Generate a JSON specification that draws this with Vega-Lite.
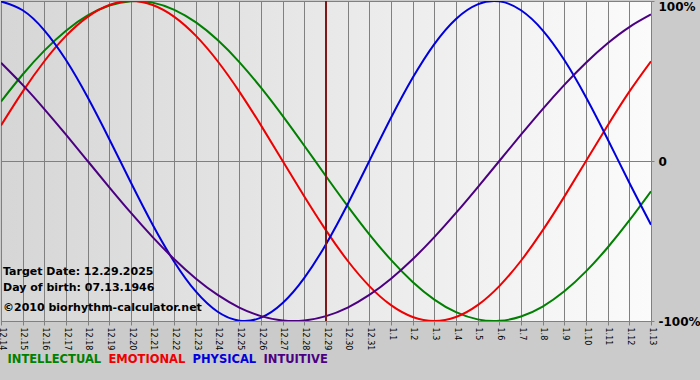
{
  "$schema": "https://vega.github.io/schema/vega-lite/v6.json",
  "width": 650,
  "height": 320,
  "autosize": {"type": "none"},
  "padding": {"left": 1, "top": 1, "right": 49, "bottom": 59},
  "background": "#cbcbcb",
  "config": {
    "font": "DejaVu Sans",
    "view": {
      "fill": {"gradient": "linear", "x1": 0, "y1": 0, "x2": 1, "y2": 0,
        "stops": [{"offset": 0, "color": "#d6d6d6"}, {"offset": 1, "color": "#fbfbfb"}]},
      "stroke": "#808080",
      "strokeWidth": 1
    }
  },
  "datasets": {
    "days": [
      {"day": 0, "date": "12.14", "INTELLECTUAL": 0.3717, "EMOTIONAL": 0.2225, "PHYSICAL": 0.9977, "INTUITIVE": 0.6142},
      {"day": 1, "date": "12.15", "INTELLECTUAL": 0.5406, "EMOTIONAL": 0.4339, "PHYSICAL": 0.9423, "INTUITIVE": 0.4759},
      {"day": 2, "date": "12.16", "INTELLECTUAL": 0.6901, "EMOTIONAL": 0.6235, "PHYSICAL": 0.8170, "INTUITIVE": 0.3247},
      {"day": 3, "date": "12.17", "INTELLECTUAL": 0.8146, "EMOTIONAL": 0.7818, "PHYSICAL": 0.6310, "INTUITIVE": 0.1646},
      {"day": 4, "date": "12.18", "INTELLECTUAL": 0.9096, "EMOTIONAL": 0.9010, "PHYSICAL": 0.3984, "INTUITIVE": 0},
      {"day": 5, "date": "12.19", "INTELLECTUAL": 0.9718, "EMOTIONAL": 0.9749, "PHYSICAL": 0.1362, "INTUITIVE": -0.1646},
      {"day": 6, "date": "12.20", "INTELLECTUAL": 0.9989, "EMOTIONAL": 1.0, "PHYSICAL": -0.1362, "INTUITIVE": -0.3247},
      {"day": 7, "date": "12.21", "INTELLECTUAL": 0.9898, "EMOTIONAL": 0.9749, "PHYSICAL": -0.3984, "INTUITIVE": -0.4759},
      {"day": 8, "date": "12.22", "INTELLECTUAL": 0.9450, "EMOTIONAL": 0.9010, "PHYSICAL": -0.6310, "INTUITIVE": -0.6142},
      {"day": 9, "date": "12.23", "INTELLECTUAL": 0.8660, "EMOTIONAL": 0.7818, "PHYSICAL": -0.8170, "INTUITIVE": -0.7357},
      {"day": 10, "date": "12.24", "INTELLECTUAL": 0.7557, "EMOTIONAL": 0.6235, "PHYSICAL": -0.9423, "INTUITIVE": -0.8372},
      {"day": 11, "date": "12.25", "INTELLECTUAL": 0.6182, "EMOTIONAL": 0.4339, "PHYSICAL": -0.9977, "INTUITIVE": -0.9158},
      {"day": 12, "date": "12.26", "INTELLECTUAL": 0.4582, "EMOTIONAL": 0.2225, "PHYSICAL": -0.9791, "INTUITIVE": -0.9694},
      {"day": 13, "date": "12.27", "INTELLECTUAL": 0.2817, "EMOTIONAL": 0, "PHYSICAL": -0.8879, "INTUITIVE": -0.9966},
      {"day": 14, "date": "12.28", "INTELLECTUAL": 0.0951, "EMOTIONAL": -0.2225, "PHYSICAL": -0.7308, "INTUITIVE": -0.9966},
      {"day": 15, "date": "12.29", "INTELLECTUAL": -0.0951, "EMOTIONAL": -0.4339, "PHYSICAL": -0.5196, "INTUITIVE": -0.9694},
      {"day": 16, "date": "12.30", "INTELLECTUAL": -0.2817, "EMOTIONAL": -0.6235, "PHYSICAL": -0.2698, "INTUITIVE": -0.9158},
      {"day": 17, "date": "12.31", "INTELLECTUAL": -0.4582, "EMOTIONAL": -0.7818, "PHYSICAL": 0, "INTUITIVE": -0.8372},
      {"day": 18, "date": "1.1", "INTELLECTUAL": -0.6182, "EMOTIONAL": -0.9010, "PHYSICAL": 0.2698, "INTUITIVE": -0.7357},
      {"day": 19, "date": "1.2", "INTELLECTUAL": -0.7557, "EMOTIONAL": -0.9749, "PHYSICAL": 0.5196, "INTUITIVE": -0.6142},
      {"day": 20, "date": "1.3", "INTELLECTUAL": -0.8660, "EMOTIONAL": -1.0, "PHYSICAL": 0.7308, "INTUITIVE": -0.4759},
      {"day": 21, "date": "1.4", "INTELLECTUAL": -0.9450, "EMOTIONAL": -0.9749, "PHYSICAL": 0.8879, "INTUITIVE": -0.3247},
      {"day": 22, "date": "1.5", "INTELLECTUAL": -0.9898, "EMOTIONAL": -0.9010, "PHYSICAL": 0.9791, "INTUITIVE": -0.1646},
      {"day": 23, "date": "1.6", "INTELLECTUAL": -0.9989, "EMOTIONAL": -0.7818, "PHYSICAL": 0.9977, "INTUITIVE": 0},
      {"day": 24, "date": "1.7", "INTELLECTUAL": -0.9718, "EMOTIONAL": -0.6235, "PHYSICAL": 0.9423, "INTUITIVE": 0.1646},
      {"day": 25, "date": "1.8", "INTELLECTUAL": -0.9096, "EMOTIONAL": -0.4339, "PHYSICAL": 0.8170, "INTUITIVE": 0.3247},
      {"day": 26, "date": "1.9", "INTELLECTUAL": -0.8146, "EMOTIONAL": -0.2225, "PHYSICAL": 0.6310, "INTUITIVE": 0.4759},
      {"day": 27, "date": "1.10", "INTELLECTUAL": -0.6901, "EMOTIONAL": 0, "PHYSICAL": 0.3984, "INTUITIVE": 0.6142},
      {"day": 28, "date": "1.11", "INTELLECTUAL": -0.5406, "EMOTIONAL": 0.2225, "PHYSICAL": 0.1362, "INTUITIVE": 0.7357},
      {"day": 29, "date": "1.12", "INTELLECTUAL": -0.3717, "EMOTIONAL": 0.4339, "PHYSICAL": -0.1362, "INTUITIVE": 0.8372},
      {"day": 30, "date": "1.13", "INTELLECTUAL": -0.1893, "EMOTIONAL": 0.6235, "PHYSICAL": -0.3984, "INTUITIVE": 0.9158}
    ],
    "target": [{"date": "12.29"}],
    "info": [
      {"label": "Target Date: 12.29.2025", "row": -0.6925},
      {"label": "Day of birth: 07.13.1946", "row": -0.7925},
      {"label": "©2010 biorhythm-calculator.net", "row": -0.9175}
    ]
  },
  "encoding": {
    "x": {
      "field": "date", "type": "ordinal", "sort": null,
      "scale": {"type": "point", "padding": 0},
      "axis": {
        "title": null, "labelAngle": 90, "labelFontSize": 8, "labelColor": "#000000",
        "labelPadding": 2, "labelOverlap": false, "labelBound": false, "labelFlush": false,
        "grid": true, "gridColor": "#808080", "gridOpacity": 1, "gridWidth": 1,
        "domain": true, "domainColor": "#808080", "tickColor": "#808080", "tickSize": 4
      }
    }
  },
  "layer": [
    {
      "data": {"name": "days"},
      "transform": [
        {"fold": ["INTELLECTUAL", "EMOTIONAL", "PHYSICAL", "INTUITIVE"], "as": ["series", "value"]}
      ],
      "mark": {"type": "line", "strokeWidth": 2, "interpolate": "natural", "clip": true},
      "encoding": {
        "y": {
          "field": "value", "type": "quantitative",
          "scale": {"domain": [-1, 1], "nice": false},
          "axis": {
            "orient": "right", "title": null, "values": [-1, 0, 1],
            "labelExpr": "datum.value == 1 ? '100%' : datum.value == -1 ? '-100%' : '0'",
            "labelFontSize": 12, "labelFontWeight": "bold", "labelColor": "#000000",
            "labelBaseline": {"condition": {"test": "datum.value == 1", "value": "top"}, "value": "middle"},
            "labelPadding": 4, "labelBound": false, "labelFlush": false,
            "grid": true, "gridColor": "#808080", "gridOpacity": 1,
            "domain": false, "tickColor": "#808080", "tickSize": 3
          }
        },
        "color": {
          "field": "series", "type": "nominal",
          "scale": {
            "domain": ["INTELLECTUAL", "EMOTIONAL", "PHYSICAL", "INTUITIVE"],
            "range": ["#008000", "#ee0000", "#0000dd", "#4b0082"]
          },
          "legend": {
            "title": null, "orient": "none", "legendX": -5, "legendY": 353,
            "direction": "horizontal", "symbolSize": 0, "symbolOpacity": 0,
            "symbolStrokeWidth": 0, "labelOffset": 0, "columnPadding": -5,
            "gridAlign": "none",
            "labelFontSize": 11.5, "labelFontWeight": "bold",
            "encode": {"labels": {"update": {"fill": {"scale": "color", "field": "value"}}}}
          }
        },
        "order": {"field": "day", "type": "quantitative"}
      }
    },
    {
      "data": {"name": "target"},
      "mark": {"type": "rule", "color": "#801818", "strokeWidth": 2},
      "encoding": {"x": {"field": "date", "type": "ordinal"}}
    },
    {
      "data": {"name": "info"},
      "mark": {"type": "text", "align": "left", "baseline": "middle", "dx": 2, "fontSize": 11, "fontWeight": "bold", "color": "#000000"},
      "encoding": {
        "x": {"datum": "12.14"},
        "y": {"field": "row", "type": "quantitative"},
        "text": {"field": "label"}
      }
    }
  ]
}
